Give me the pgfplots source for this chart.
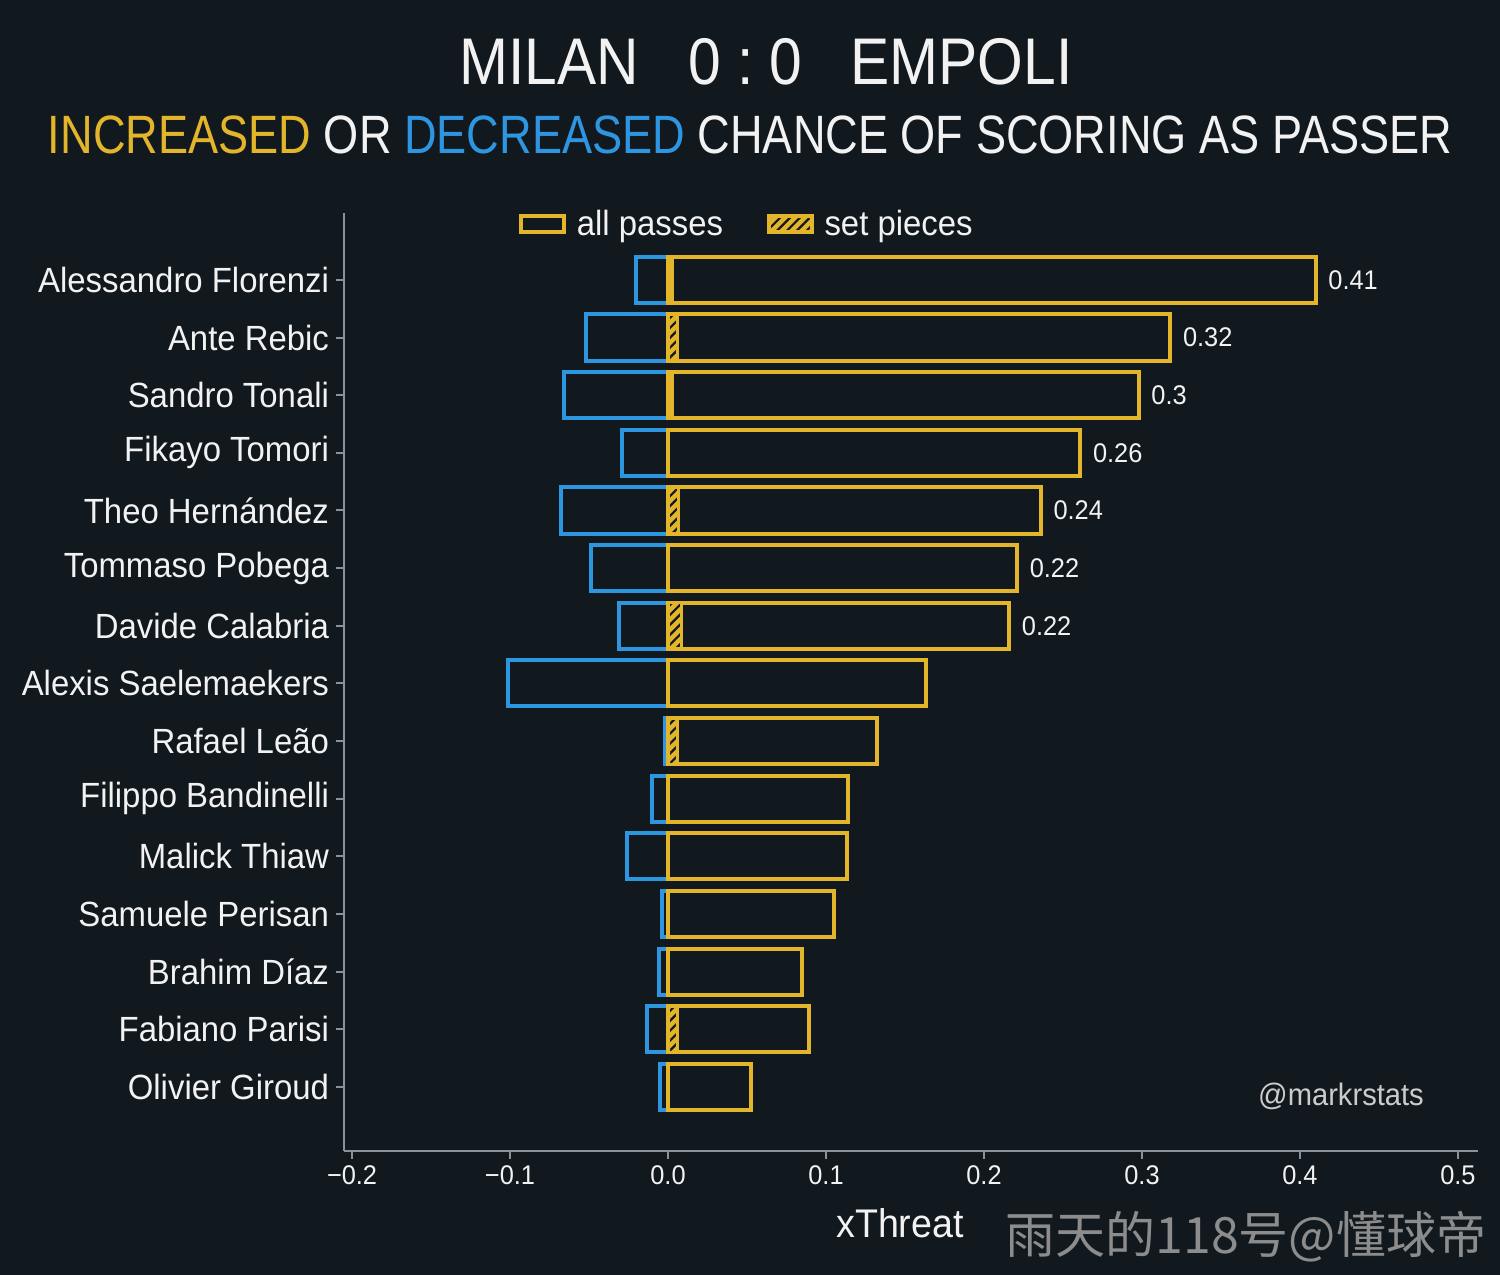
\documentclass[border=0pt]{standalone}
\usepackage{fontspec}
\setmainfont{Liberation Sans}[FakeStretch=0.94]
\newfontfamily\titlefont{Liberation Sans}[FakeStretch=0.89]
\newfontfamily\cjk{Noto Sans CJK SC}
\usepackage{graphicx}
\usepackage{pgfplots}
\pgfplotsset{compat=1.18}
\usetikzlibrary{patterns,patterns.meta}
\definecolor{bgc}{HTML}{11181E}
\definecolor{myyellow}{HTML}{E3B52B}
\definecolor{myblue}{HTML}{2E95E0}
\definecolor{axgray}{HTML}{8A9298}
\definecolor{txt}{HTML}{F2F2F2}
\begin{document}
\begin{tikzpicture}
\fill[bgc] (0,0) rectangle (750bp,637.5bp);
\useasboundingbox (0,0) rectangle (750bp,637.5bp);
\node[text=txt, font=\titlefont\fontsize{33bp}{36bp}\selectfont] at (383bp,606.5bp) {MILAN\hspace{25bp}0\hspace{8bp}:\hspace{8bp}0\hspace{24bp}EMPOLI};
\node[text=txt, font=\fontsize{27bp}{30bp}\selectfont, inner sep=0pt] at (375bp,570bp) {\resizebox{702bp}{\height}{{\color{myyellow}INCREASED} OR {\color{myblue}DECREASED} CHANCE OF SCORING AS PASSER}};
\begin{axis}[
 at={(172bp,62bp)}, anchor=south west, scale only axis, width=567bp, height=469bp,
 xmin=-0.2051, xmax=0.5127, ymin=-1.11, ymax=15.16,
 axis x line*=bottom, axis y line*=left,
 axis line style={draw=axgray, line width=1bp},
 xtick={-0.2,-0.1,0,0.1,0.2,0.3,0.4,0.5},
 xticklabels={−0.2,−0.1,0.0,0.1,0.2,0.3,0.4,0.5},
 ytick={0,...,14},
 yticklabels={Olivier Giroud, Fabiano Parisi, Brahim Díaz, Samuele Perisan, Malick Thiaw, Filippo Bandinelli, Rafael Leão, Alexis Saelemaekers, Davide Calabria, Tommaso Pobega, Theo Hernández, Fikayo Tomori, Sandro Tonali, Ante Rebic, Alessandro Florenzi},
 tick align=outside, major tick length=4bp,
 tick style={draw=axgray, line width=1bp},
 xticklabel style={font=\fontsize{13.5bp}{16bp}\selectfont, text=txt},
 yticklabel style={font=\fontsize{17.5bp}{20bp}\selectfont, text=txt},
 legend columns=2,
 legend style={at={(0.356,0.988)}, anchor=center, draw=none, fill=none, text=txt,
   font=\fontsize{17.5bp}{20bp}\selectfont,
   /tikz/every even column/.append style={column sep=20bp}},
]
\addplot[xbar, bar shift=0pt, bar width=0.8, draw=myblue, fill=none, line width=2bp, forget plot]
 coordinates {(-0.020,14) (-0.052,13) (-0.066,12) (-0.029,11) (-0.068,10) (-0.049,9) (-0.031,8) (-0.101,7) (-0.002,6) (-0.010,5) (-0.026,4) (-0.004,3) (-0.006,2) (-0.0135,1) (-0.005,0)};
\addplot[xbar, bar shift=0pt, bar width=0.8, draw=myyellow, fill=none, line width=2bp,
  point meta=explicit symbolic, nodes near coords,
  nodes near coords style={text=txt, font=\fontsize{13.5bp}{16bp}\selectfont, anchor=west, xshift=2bp},
  legend image code/.code={\draw[myyellow, line width=2bp, fill=none] (0bp,-4bp) rectangle (21.5bp,4bp); \path (25bp,0bp);}]
 coordinates {(0.410,14) [0.41] (0.318,13) [0.32] (0.298,12) [0.3] (0.261,11) [0.26] (0.236,10) [0.24] (0.221,9) [0.22] (0.216,8) [0.22]};
\addlegendentry{all passes}
\addplot[xbar, bar shift=0pt, bar width=0.8, draw=myyellow, fill=none, line width=2bp, forget plot]
 coordinates {(0.163,7) (0.132,6) (0.114,5) (0.113,4) (0.105,3) (0.085,2) (0.089,1) (0.0525,0)};
\addplot[xbar, bar shift=0pt, bar width=0.8, draw=myyellow, fill=myyellow, line width=1.5bp, forget plot]
 coordinates {(0.003,14) (0.003,12)};
\addplot[xbar, bar shift=0pt, bar width=0.8, draw=myyellow, line width=1.5bp,
  preaction={fill=myyellow}, pattern={Lines[angle=45,distance=3.5bp,line width=1.1bp]}, pattern color=bgc,
  legend image code/.code={\draw[myyellow, line width=2bp, preaction={fill=myyellow}, pattern={Lines[angle=45,distance=3.5bp,line width=1.1bp]}, pattern color=bgc] (0bp,-4bp) rectangle (21.5bp,4bp); \path (25bp,0bp);}]
 coordinates {(0.006,13) (0.0065,10) (0.0085,8) (0.006,6) (0.006,1)};
\addlegendentry{set pieces}
\end{axis}
\node[text=txt, font=\fontsize{20bp}{24bp}\selectfont] at (450bp,26bp) {xThreat};
\node[text=black!45!white, font=\cjk\fontsize{25bp}{28bp}\selectfont] at (623bp,19bp) {雨天的118号@懂球帝};
\node[text=black!20!white, font=\fontsize{15.5bp}{18bp}\selectfont] at (670.5bp,89.5bp) {@markrstats};
\end{tikzpicture}
\end{document}
